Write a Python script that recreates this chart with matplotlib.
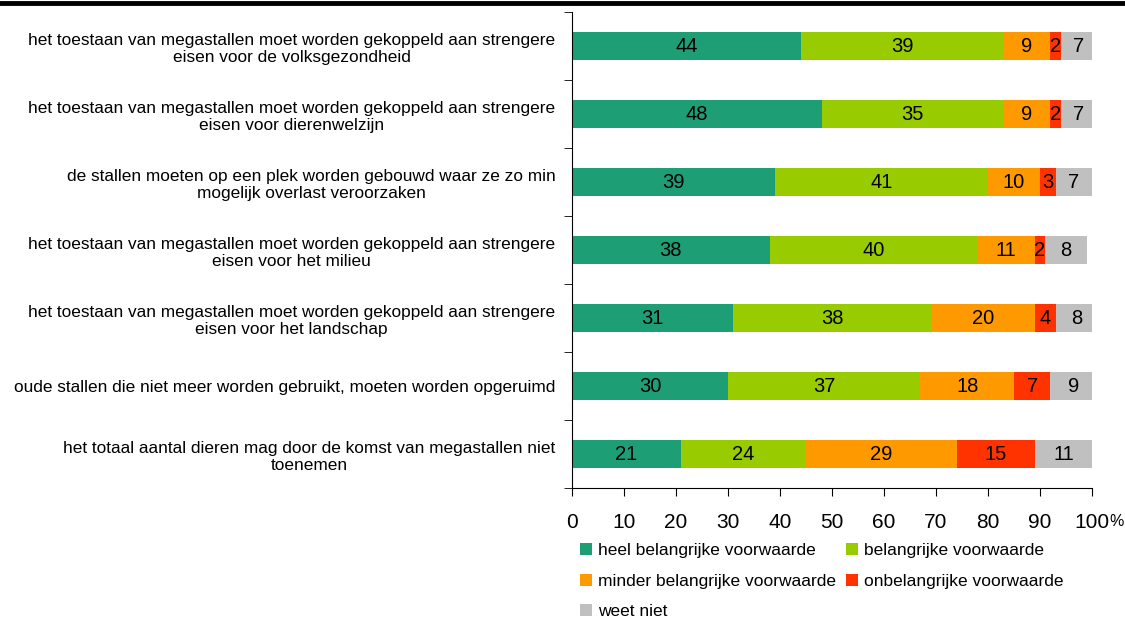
import numpy as np
import matplotlib
matplotlib.use("Agg")
from matplotlib import pyplot as plt
from matplotlib.lines import Line2D
from matplotlib.patches import Patch

plt.rcParams['font.family'] = ['Liberation Sans', 'DejaVu Sans']

# stellingen (van boven naar beneden)
stellingen = [
    "het toestaan van megastallen moet worden gekoppeld aan strengere\neisen voor de volksgezondheid",
    "het toestaan van megastallen moet worden gekoppeld aan strengere\neisen voor dierenwelzijn",
    "de stallen moeten op een plek worden gebouwd waar ze zo min\nmogelijk overlast veroorzaken",
    "het toestaan van megastallen moet worden gekoppeld aan strengere\neisen voor het milieu",
    "het toestaan van megastallen moet worden gekoppeld aan strengere\neisen voor het landschap",
    "oude stallen die niet meer worden gebruikt, moeten worden opgeruimd",
    "het totaal aantal dieren mag door de komst van megastallen niet\ntoenemen",
]

heel_belangrijk = [44, 48, 39, 38, 31, 30, 21]
belangrijk = [39, 35, 41, 40, 38, 37, 24]
minder_belangrijk = [9, 9, 10, 11, 20, 18, 29]
onbelangrijk = [2, 2, 3, 2, 4, 7, 15]
weet_niet = [7, 7, 7, 8, 8, 9, 11]

reeksen = [heel_belangrijk, belangrijk, minder_belangrijk, onbelangrijk, weet_niet]
namen = ["heel belangrijke voorwaarde", "belangrijke voorwaarde",
         "minder belangrijke voorwaarde", "onbelangrijke voorwaarde", "weet niet"]
kleuren = ["#1d9e74", "#99cc00", "#ff9900", "#ff3300", "#c0c0c0"]

fig = plt.figure(figsize=(11.25, 6.18), dpi=100)
ax = fig.add_axes([572 / 1125, 1 - 488 / 618, 520 / 1125, 476 / 618])

y = np.arange(len(stellingen))
links = np.zeros(len(stellingen))
for waarden, naam, kleur in zip(reeksen, namen, kleuren):
    w = np.array(waarden, dtype=float)
    ax.barh(y, w, left=links, height=0.4, color=kleur, label=naam)
    for yi, l, v in zip(y, links, w):
        ax.text(l + v / 2, yi, str(int(v)), ha='center', va='center', fontsize=14.5, color='black')
    links += w

ax.set_xlim(0, 100)
ax.set_ylim(len(stellingen) - 0.5, -0.5)

ax.spines['top'].set_visible(False)
ax.spines['right'].set_visible(False)

ax.set_xticks(np.arange(0, 101, 10))
ax.set_xticklabels([str(v) for v in range(0, 101, 10)], fontsize=15)
ax.tick_params(axis='x', direction='out', length=6, pad=12)
# procentteken achter de laatste tick
ax.annotate("%", xy=(100, 0), xycoords=('data', 'axes fraction'),
            xytext=(12.5, -19), textcoords='offset points',
            ha='left', va='top', fontsize=11.5)

ax.set_yticks(y)
ax.set_yticklabels(stellingen, fontsize=12.4, multialignment='center')
ax.tick_params(axis='y', which='major', length=0, pad=12)
ax.set_yticks(np.arange(-0.5, len(stellingen)), minor=True)
ax.tick_params(axis='y', which='minor', direction='out', length=6)

# lijn bovenaan
fig.add_artist(Line2D([0, 1], [1 - 2.5 / 618, 1 - 2.5 / 618], color='black', lw=3.5,
                      transform=fig.transFigure))

# legenda rij voor rij vullen
volgorde = [0, 2, 4, 1, 3]
handles = [Patch(facecolor=kleuren[i], edgecolor='none') for i in volgorde]
labels = [namen[i] for i in volgorde]
fig.legend(handles, labels, loc='upper left', bbox_to_anchor=(568 / 1125, 1 - 531 / 618),
           ncol=2, frameon=False, fontsize=12.5, handlelength=0.7, handleheight=0.7,
           handletextpad=0.35, columnspacing=0.55, labelspacing=0.88, borderpad=0.2)

fig.savefig("out.png", dpi=100)
